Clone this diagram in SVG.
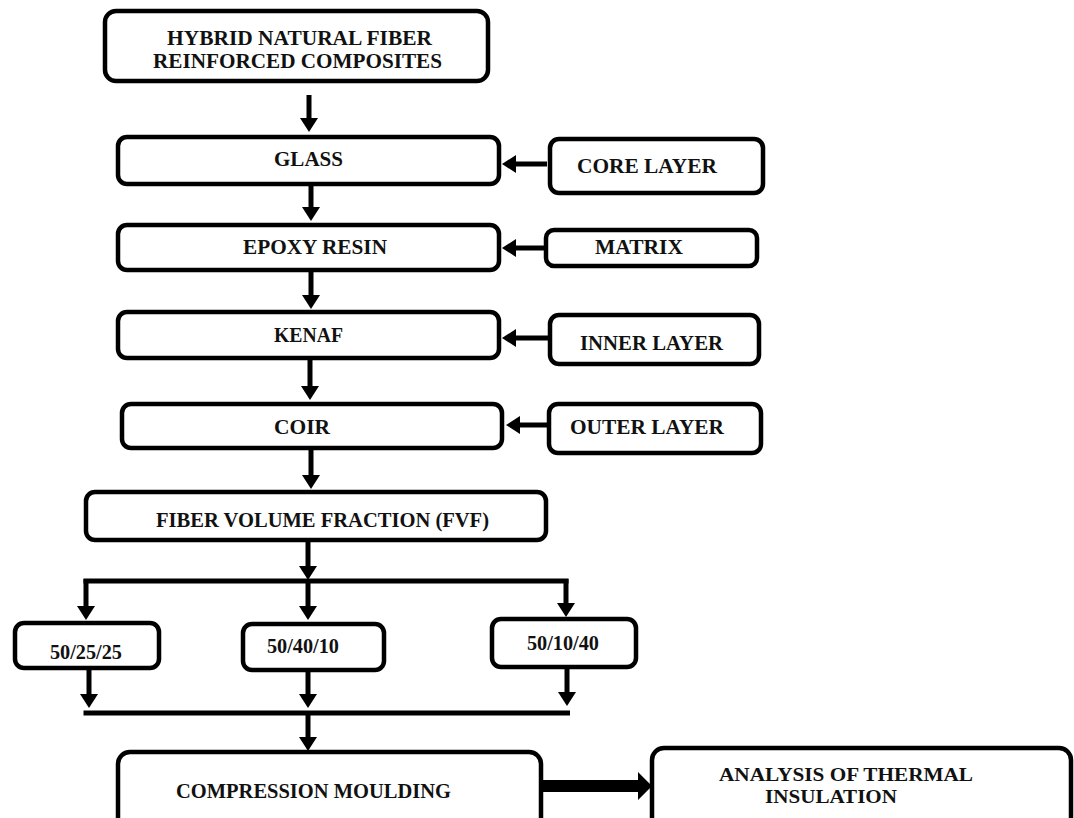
<svg xmlns="http://www.w3.org/2000/svg" width="1074" height="818" viewBox="0 0 1074 818">
<style>
.box{fill:#fff;stroke:#000;stroke-width:4.5}
.t{font-family:"Liberation Serif","Times New Roman",serif;font-weight:bold;font-size:21px;fill:#111}
.s{font-size:18.5px}
.c{fill:none;stroke:#000;stroke-width:5}
.cm{fill:none;stroke:#000;stroke-width:5;marker-end:url(#ah)}
</style>
<defs>
<marker id="ah" viewBox="0 0 14 18" refX="1" refY="9" markerWidth="14" markerHeight="18" markerUnits="userSpaceOnUse" orient="auto">
<path d="M0,0 L14,9 L0,18 Z" fill="#000"/>
</marker>
</defs>
<rect width="1074" height="818" fill="#fff"/>
<g id="connectors">
<path class="cm" d="M309,95 V119"/>
<path class="cm" d="M311,186 V208"/>
<path class="cm" d="M311,272 V296"/>
<path class="cm" d="M310,360 V387"/>
<path class="cm" d="M311,450 V476"/>
<path class="cm" d="M547,164 H515"/>
<path class="cm" d="M545,248 H515"/>
<path class="cm" d="M548,338 H515"/>
<path class="cm" d="M547,425 H519"/>
<path class="cm" d="M308,542 V567"/>
<path class="c" d="M83.5,581 H568.5"/>
<path class="cm" d="M86,579 V607"/>
<path class="cm" d="M308,579 V607"/>
<path class="cm" d="M566,579 V604"/>
<path class="cm" d="M89,670 V695"/>
<path class="cm" d="M308,672 V695"/>
<path class="cm" d="M567,669 V693"/>
<path class="c" d="M83.5,713 H570"/>
<path class="cm" d="M308,713 V738"/>
<path d="M543,780 H638 V772 L652,786 L638,800 V792 H543 Z" fill="#000"/>
</g>
<g id="n-hybrid">
<rect class="box" x="105" y="11" width="383" height="70" rx="11"/>
<text class="t" x="167" y="45" textLength="265" lengthAdjust="spacingAndGlyphs">HYBRID NATURAL FIBER</text>
<text class="t" x="153" y="68" textLength="289" lengthAdjust="spacingAndGlyphs">REINFORCED COMPOSITES</text>
</g>
<g id="n-glass">
<rect class="box" x="118" y="137" width="381" height="47" rx="9"/>
<text class="t" x="274" y="166" textLength="69" lengthAdjust="spacingAndGlyphs">GLASS</text>
</g>
<g id="n-core">
<rect class="box" x="550" y="139" width="213" height="54" rx="9"/>
<text class="t" x="577" y="173" textLength="140" lengthAdjust="spacingAndGlyphs">CORE LAYER</text>
</g>
<g id="n-epoxy">
<rect class="box" x="118" y="225" width="381" height="45" rx="9"/>
<text class="t" x="243" y="254" textLength="144" lengthAdjust="spacingAndGlyphs">EPOXY RESIN</text>
</g>
<g id="n-matrix">
<rect class="box" x="546" y="230" width="211" height="36" rx="8"/>
<text class="t" x="595" y="254" textLength="88" lengthAdjust="spacingAndGlyphs">MATRIX</text>
</g>
<g id="n-kenaf">
<rect class="box" x="118" y="312" width="381" height="46" rx="9"/>
<text class="t" x="274" y="342" textLength="69" lengthAdjust="spacingAndGlyphs">KENAF</text>
</g>
<g id="n-inner">
<rect class="box" x="550" y="315" width="209" height="49" rx="9"/>
<text class="t" x="580" y="350" textLength="143" lengthAdjust="spacingAndGlyphs">INNER LAYER</text>
</g>
<g id="n-coir">
<rect class="box" x="122" y="404" width="380" height="44" rx="9"/>
<text class="t" x="274" y="434" textLength="56" lengthAdjust="spacingAndGlyphs">COIR</text>
</g>
<g id="n-outer">
<rect class="box" x="549" y="404" width="212" height="49" rx="9"/>
<text class="t" x="570" y="434" textLength="154" lengthAdjust="spacingAndGlyphs">OUTER LAYER</text>
</g>
<g id="n-fvf">
<rect class="box" x="86" y="492" width="460" height="48" rx="9"/>
<text class="t" x="156" y="527" textLength="333" lengthAdjust="spacingAndGlyphs">FIBER VOLUME FRACTION (FVF)</text>
</g>
<g id="n-502525">
<rect class="box" x="15" y="623" width="144" height="45" rx="9"/>
<text class="t" x="50" y="659" textLength="72" lengthAdjust="spacingAndGlyphs">50/25/25</text>
</g>
<g id="n-504010">
<rect class="box" x="243" y="624" width="141" height="46" rx="9"/>
<text class="t" x="267" y="653" textLength="72" lengthAdjust="spacingAndGlyphs">50/40/10</text>
</g>
<g id="n-501040">
<rect class="box" x="492" y="619" width="144" height="48" rx="9"/>
<text class="t" x="527" y="650" textLength="72" lengthAdjust="spacingAndGlyphs">50/10/40</text>
</g>
<g id="n-compression">
<rect class="box" x="118" y="752" width="423" height="100" rx="12"/>
<text class="t" x="176" y="798" textLength="275" lengthAdjust="spacingAndGlyphs">COMPRESSION MOULDING</text>
</g>
<g id="n-analysis">
<rect class="box" x="652" y="748" width="419" height="100" rx="12"/>
<text class="t s" x="719" y="781" textLength="254" lengthAdjust="spacingAndGlyphs">ANALYSIS OF THERMAL</text>
<text class="t s" x="765" y="803" textLength="132" lengthAdjust="spacingAndGlyphs">INSULATION</text>
</g>
</svg>
